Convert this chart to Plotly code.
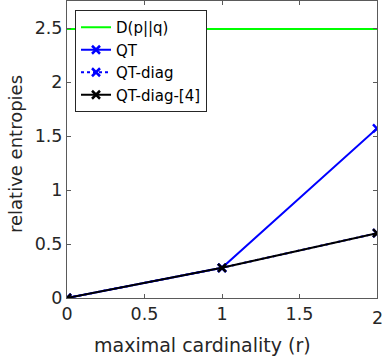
import plotly.graph_objects as go

r_vals = [0, 1, 2]
d_pq = [2.49, 2.49, 2.49]
qt = [0.0, 0.28, 1.57]
qt_diag = [0.0, 0.28, 0.60]
qt_diag4 = [0.0, 0.28, 0.60]

x_ticks = [0, 0.5, 1, 1.5, 2]
y_ticks = [0, 0.5, 1, 1.5, 2, 2.5]

FONT = "DejaVu Sans, Arial, sans-serif"
TXT = "#262626"


def x_marker(color):
    return dict(symbol="x-thin", size=8, color=color, line=dict(width=2.5, color=color))


fig = go.Figure()
fig.add_trace(go.Scatter(x=r_vals, y=d_pq, mode="lines", name="D(p||q)",
                         line=dict(color="#00ff00", width=2)))
fig.add_trace(go.Scatter(x=r_vals, y=qt, mode="lines+markers", name="QT",
                         line=dict(color="#0000ff", width=2), marker=x_marker("#0000ff")))
fig.add_trace(go.Scatter(x=r_vals, y=qt_diag, mode="lines+markers", name="QT-diag",
                         line=dict(color="#0000ff", width=2, dash="dot"), marker=x_marker("#0000ff")))
fig.add_trace(go.Scatter(x=r_vals, y=qt_diag4, mode="lines+markers", name="QT-diag-[4]",
                         line=dict(color="black", width=2), marker=x_marker("black")))

axis_common = dict(
    showgrid=False, zeroline=False, showline=True, linecolor="#5a5a5a", linewidth=1,
    mirror="ticks", ticks="inside", ticklen=4, tickcolor="#5a5a5a",
    tickfont=dict(family=FONT, size=17.5, color=TXT),
)
fig.update_xaxes(range=[0, 2], tickvals=x_ticks, ticktext=[f"{v:g}" for v in x_ticks],
                 automargin=False, **axis_common)
fig.update_yaxes(range=[0, 2.75], tickvals=y_ticks, ticktext=[f"{v:g}" for v in y_ticks],
                 automargin=False, **axis_common)

# last x tick label runs off the right edge, plotly drops it, so place it by hand
fig.add_annotation(text="2", xref="x", yref="paper", x=2, y=0, yshift=-20,
                   xanchor="center", yanchor="middle", showarrow=False,
                   font=dict(family=FONT, size=17.5, color=TXT))
fig.add_annotation(text="maximal cardinality (r)", xref="paper", yref="paper",
                   x=(202 - 67) / 310, y=-(345 - 298) / 297, xanchor="center", yanchor="middle",
                   showarrow=False, font=dict(family=FONT, size=19, color=TXT))
fig.add_annotation(text="relative entropies", xref="paper", yref="paper",
                   x=-(67 - 15) / 310, y=(298 - 154) / 297, xanchor="center", yanchor="middle",
                   textangle=-90, showarrow=False, font=dict(family=FONT, size=18, color=TXT))

fig.update_layout(
    width=382, height=359,
    margin=dict(l=67, r=5, t=1, b=61),
    plot_bgcolor="white", paper_bgcolor="white",
    font=dict(family=FONT, color=TXT),
    legend=dict(x=(75 - 67) / 310, y=(298 - 10) / 297, xanchor="left", yanchor="top",
                bgcolor="white", bordercolor=TXT, borderwidth=1,
                font=dict(family=FONT, size=15, color="black"),
                tracegroupgap=0, itemwidth=30),
    showlegend=True,
)

fig.write_html("out.html", config={"displayModeBar": False},
               post_script="document.body.style.margin='0';")
